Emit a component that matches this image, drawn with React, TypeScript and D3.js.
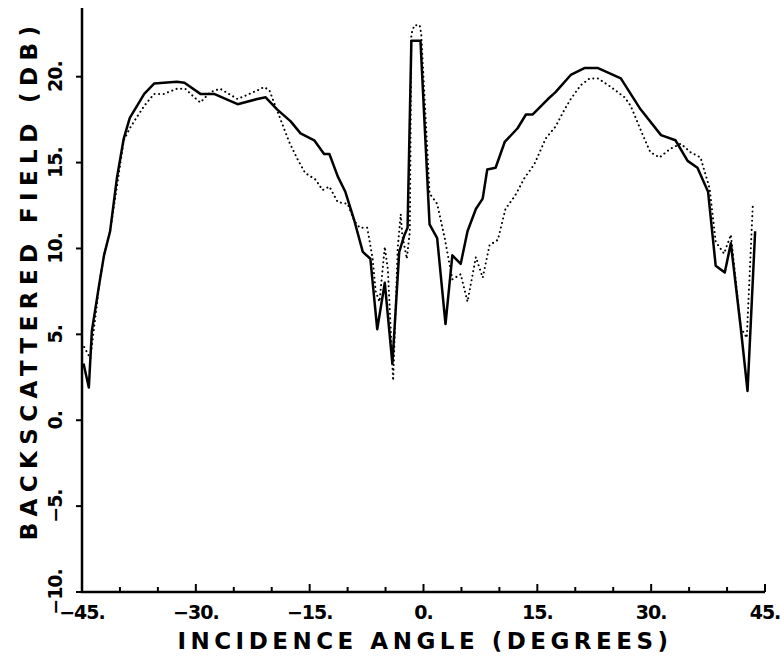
import React, { useRef, useEffect } from 'react';
import * as d3 from 'd3';

// solid curve: incidence angle (deg), field (dB)
const solidAngle = [-44.8, -44.1, -43.7, -42.7, -42.1, -41.3, -40.4, -39.5, -38.7, -36.8, -35.5, -32.5, -31.5, -29.4, -27.6, -24.5, -21.9, -20.8, -19.3, -17.5, -16.2, -14.4, -13.1, -12.4, -11.3, -10.3, -9.1, -8.0, -7.0, -6.1, -5.1, -4.1, -3.2, -2.5, -2.1, -1.6, -0.4, 0.8, 1.8, 2.9, 3.8, 4.9, 5.8, 6.9, 7.8, 8.4, 9.5, 10.7, 12.4, 13.5, 14.4, 16.4, 17.4, 19.4, 21.2, 23.0, 26.0, 28.6, 31.3, 33.2, 34.8, 36.1, 37.5, 38.5, 39.7, 40.5, 41.8, 42.7, 43.7];
const solidDb = [3.3, 1.9, 5.2, 8.0, 9.6, 11.0, 14.1, 16.4, 17.6, 19.0, 19.6, 19.7, 19.65, 19.0, 19.0, 18.4, 18.7, 18.8, 18.1, 17.4, 16.7, 16.3, 15.5, 15.5, 14.2, 13.3, 11.6, 9.8, 9.4, 5.3, 8.0, 3.3, 9.8, 10.8, 11.2, 22.1, 22.1, 11.4, 10.6, 5.6, 9.6, 9.1, 11.0, 12.3, 12.9, 14.6, 14.7, 16.2, 17.0, 17.8, 17.8, 18.7, 19.1, 20.1, 20.5, 20.5, 19.9, 18.1, 16.6, 16.3, 15.1, 14.7, 13.3, 9.0, 8.6, 10.3, 5.4, 1.7, 11.0];

// dotted curve
const dottedAngle = [-45.0, -43.9, -43.3, -42.7, -42.1, -41.3, -40.4, -39.5, -38.7, -37.7, -36.8, -35.5, -34.2, -32.5, -31.4, -30.2, -29.4, -28.1, -26.8, -24.5, -21.9, -21.0, -20.3, -19.0, -17.7, -16.6, -15.6, -14.2, -13.3, -12.4, -11.3, -10.0, -9.1, -8.4, -7.4, -6.7, -6.3, -5.8, -5.1, -4.7, -4.0, -3.4, -3.0, -2.8, -2.2, -1.8, -1.6, -1.2, -0.5, -0.3, 0.8, 1.8, 2.8, 3.8, 4.9, 5.8, 6.9, 7.8, 8.7, 9.8, 10.8, 12.1, 13.3, 14.6, 16.1, 17.4, 18.6, 19.4, 20.7, 21.9, 23.0, 24.7, 26.5, 27.3, 28.9, 29.9, 31.1, 32.5, 33.9, 35.2, 36.5, 37.7, 38.5, 39.6, 40.5, 41.8, 42.6, 43.4];
const dottedDb = [4.5, 3.6, 5.8, 8.0, 9.6, 11.0, 13.6, 16.3, 17.0, 17.7, 18.3, 19.0, 19.0, 19.3, 19.3, 18.8, 18.5, 19.1, 19.3, 18.7, 19.2, 19.4, 19.2, 17.7, 16.2, 15.2, 14.4, 14.0, 13.4, 13.6, 12.7, 12.6, 11.6, 11.2, 11.2, 9.4, 7.5, 6.9, 10.1, 8.8, 2.3, 10.0, 12.0, 10.8, 9.4, 11.0, 22.5, 23.0, 23.0, 22.5, 13.2, 12.6, 10.6, 8.2, 8.5, 6.9, 9.5, 8.3, 10.2, 10.5, 12.3, 13.1, 14.1, 14.9, 16.4, 17.1, 18.1, 18.7, 19.5, 19.9, 19.9, 19.4, 18.8, 18.3, 16.6, 15.6, 15.3, 15.8, 16.1, 15.6, 15.3, 13.5, 10.4, 9.7, 10.8, 5.4, 4.8, 12.6];

const xTicks = d3.range(-45, 46, 5);
const xLabels = [-45, -30, -15, 0, 15, 30, 45];
const yTicks = [-10, -5, 0, 5, 10, 15, 20];

const FONT = '"DejaVu Sans", sans-serif';

export default function App() {
  const ref = useRef<SVGSVGElement>(null);

  useEffect(() => {
    const svg = d3.select(ref.current);
    svg.selectAll('*').remove();

    const x = d3.scaleLinear().domain([-45, 45]).range([82, 765]);
    const y = d3.scaleLinear().domain([-10, 24]).range([592, 8]);

    const g = svg.append('g');

    // axis lines
    g.append('path')
      .attr('d', `M${x(-45)},${y(24)}V${y(-10)}H${x(45)}`)
      .attr('fill', 'none').attr('stroke', '#000').attr('stroke-width', 2.5);

    // x ticks (inside)
    g.selectAll('.xt').data(xTicks).join('line')
      .attr('x1', d => x(d)).attr('x2', d => x(d))
      .attr('y1', y(-10)).attr('y2', d => y(-10) - (d % 15 === 0 ? 8 : 5))
      .attr('stroke', '#000').attr('stroke-width', 2);

    // y ticks (outside)
    g.selectAll('.yt').data(yTicks).join('line')
      .attr('x1', x(-45)).attr('x2', x(-45) - 6)
      .attr('y1', d => y(d)).attr('y2', d => y(d))
      .attr('stroke', '#000').attr('stroke-width', 2);

    // x tick labels
    g.selectAll('.xl').data(xLabels).join('text')
      .attr('x', d => x(d)).attr('y', 619)
      .attr('text-anchor', 'middle')
      .attr('font-family', FONT).attr('font-weight', 'bold')
      .attr('font-size', 19).attr('letter-spacing', -1)
      .text(d => (d < 0 ? '\u2212' + Math.abs(d) : d) + '.');

    // y tick labels (rotated)
    g.selectAll('.yl').data(yTicks).join('text')
      .attr('transform', d => `translate(62,${y(d)}) rotate(-90)`)
      .attr('text-anchor', 'middle')
      .attr('font-family', FONT).attr('font-weight', 'bold')
      .attr('font-size', 19).attr('letter-spacing', -1)
      .text(d => (d < 0 ? '\u2212' + Math.abs(d) : d) + '.');

    // axis titles
    g.append('text')
      .attr('x', 425).attr('y', 649).attr('text-anchor', 'middle')
      .attr('font-family', FONT).attr('font-weight', 'bold')
      .attr('font-size', 23).attr('letter-spacing', 4.5)
      .text('INCIDENCE ANGLE (DEGREES)');

    g.append('text')
      .attr('transform', `translate(37,280) rotate(-90)`)
      .attr('text-anchor', 'middle')
      .attr('font-family', FONT).attr('font-weight', 'bold')
      .attr('font-size', 23).attr('letter-spacing', 6.4)
      .text('BACKSCATTERED FIELD (DB)');

    const line = d3.line<[number, number]>()
      .x(d => x(d[0])).y(d => y(d[1]));

    const dotted = dottedAngle.map((a, i) => [a, dottedDb[i]] as [number, number]);
    const solid = solidAngle.map((a, i) => [a, solidDb[i]] as [number, number]);

    g.append('path')
      .attr('d', line(dotted))
      .attr('fill', 'none').attr('stroke', '#000').attr('stroke-width', 2)
      .attr('stroke-linecap', 'round').attr('stroke-dasharray', '0.1 4.5');

    g.append('path')
      .attr('d', line(solid))
      .attr('fill', 'none').attr('stroke', '#000').attr('stroke-width', 2.5)
      .attr('stroke-linejoin', 'round');
  }, []);

  return (
    <svg ref={ref} width={781} height={658}
      style={{ position: 'absolute', left: 0, top: 0, background: '#fff' }} />
  );
}
